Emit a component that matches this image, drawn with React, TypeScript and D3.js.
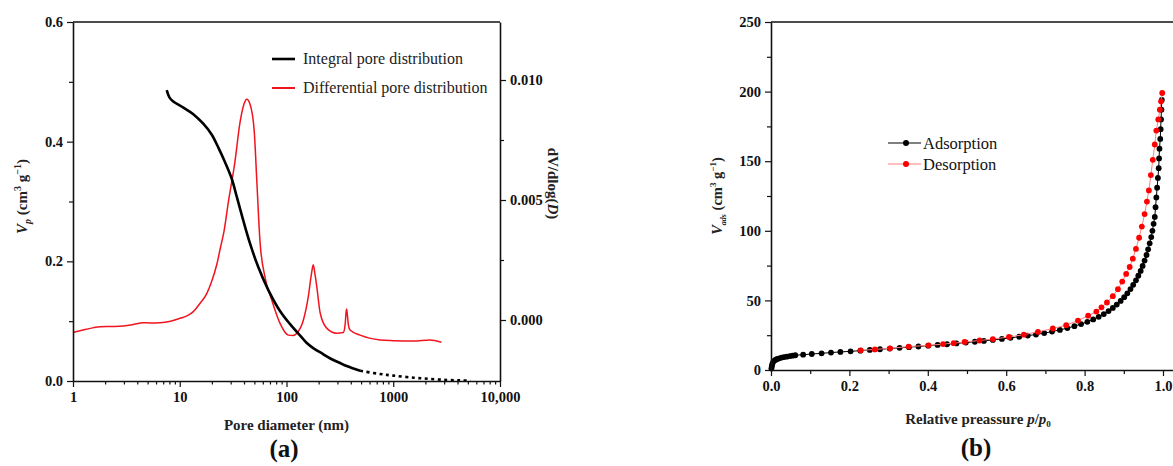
import { useRef, useEffect } from "react";
import * as d3 from "d3";

// ---- panel (a): pore size distribution ----
const integralD = [7.55, 8.0, 8.7, 10.8, 13.4, 16.6, 19.9, 23, 26.5, 30.7, 34.2, 39.4, 45.5, 54.5, 67.6, 86.9, 108, 139, 154, 178, 220, 255, 318, 366, 490, 754, 1000, 1550, 2200, 3170, 4200, 5300];
const integralV = [0.486, 0.474, 0.467, 0.457, 0.446, 0.43, 0.412, 0.39, 0.366, 0.338, 0.308, 0.268, 0.23, 0.19, 0.152, 0.117, 0.095, 0.073, 0.064, 0.055, 0.045, 0.038, 0.03, 0.025, 0.017, 0.0117, 0.009, 0.0055, 0.0035, 0.0017, 0.001, 0.0005];

const diffD = [1.0, 1.3, 1.79, 2.3, 2.96, 3.6, 4.56, 5.27, 6.5, 8.2, 10.06, 11.8, 13.4, 15.5, 17.9, 19.9, 22.2, 24, 26, 28.5, 32.9, 36.6, 40, 42.4, 45.5, 49.8, 52.7, 56.4, 62.8, 72.8, 87, 104, 115, 125, 144, 160, 171, 178, 185, 192, 207, 239, 294, 340, 354, 362, 366, 371, 380, 394, 490, 754, 1000, 1550, 2200, 2830];
const diffV = [-0.00052, -0.0004, -0.00028, -0.00027, -0.00025, -0.0002, -0.00011, -0.00012, -0.00011, -0.00005, 0.00007, 0.00018, 0.00035, 0.0007, 0.0011, 0.0016, 0.0023, 0.003, 0.0037, 0.0049, 0.0066, 0.0082, 0.009, 0.0092, 0.009, 0.0079, 0.0058, 0.0033, 0.0018, 0.00083, -0.00014, -0.00063, -0.00065, -0.00055, 0.0, 0.00097, 0.0019, 0.0023, 0.0019, 0.0014, 0.00028, -0.00035, -0.00055, -0.00052, -0.0002, 0.00035, 0.00046, 0.00025, -0.0002, -0.00042, -0.00063, -0.00083, -0.00086, -0.00088, -0.00083, -0.00093];

const xTicksA = [1, 10, 100, 1000, 10000];
const yTicksA = [0, 0.2, 0.4, 0.6];
const yTicksA2 = [0, 0.005, 0.01];

// ---- panel (b): N2 isotherm ----
const adsP = [0.001, 0.002, 0.003, 0.005, 0.008, 0.012, 0.016, 0.021, 0.027, 0.033, 0.04, 0.048, 0.055, 0.062, 0.082, 0.104, 0.129, 0.153, 0.177, 0.203, 0.228, 0.252, 0.278, 0.303, 0.328, 0.352, 0.376, 0.401, 0.425, 0.449, 0.473, 0.497, 0.52, 0.543, 0.566, 0.589, 0.611, 0.633, 0.655, 0.676, 0.697, 0.717, 0.737, 0.756, 0.774, 0.791, 0.807, 0.822, 0.836, 0.849, 0.861, 0.872, 0.882, 0.892, 0.901, 0.909, 0.917, 0.924, 0.931, 0.937, 0.943, 0.948, 0.953, 0.958, 0.962, 0.966, 0.97, 0.973, 0.976, 0.979, 0.981, 0.983, 0.985, 0.987, 0.989, 0.99, 0.991, 0.993, 0.994, 0.995, 0.996, 0.997];
const adsV = [1.0, 2.5, 4.0, 5.5, 6.6, 7.4, 7.9, 8.4, 8.9, 9.3, 9.6, 10.0, 10.3, 10.6, 11.0, 11.5, 12.0, 12.5, 13.0, 13.4, 13.9, 14.4, 14.9, 15.4, 15.9, 16.4, 16.9, 17.5, 18.0, 18.5, 19.1, 19.7, 20.3, 20.9, 21.6, 22.3, 23.1, 23.9, 24.7, 25.5, 26.5, 27.6, 28.8, 30.1, 31.5, 33.0, 34.6, 36.3, 38.2, 40.2, 42.3, 44.6, 47.0, 49.6, 52.3, 55.1, 58.1, 61.2, 64.4, 67.7, 71.2, 74.8, 78.6, 82.6, 86.7, 91.0, 95.5, 100, 105, 110, 117, 124, 131, 138, 145, 152, 159, 166, 173, 180, 187, 194];

const desP = [0.998, 0.995, 0.992, 0.988, 0.983, 0.979, 0.974, 0.969, 0.964, 0.959, 0.953, 0.946, 0.939, 0.931, 0.923, 0.915, 0.906, 0.896, 0.885, 0.872, 0.857, 0.843, 0.83, 0.809, 0.783, 0.753, 0.719, 0.681, 0.645, 0.607, 0.566, 0.532, 0.494, 0.466, 0.439, 0.402, 0.351, 0.304, 0.265, 0.229];
const desV = [199, 193, 187, 180, 172, 162, 151, 140, 129, 121, 112, 103, 95, 87, 80, 74, 69, 63.5, 58, 53, 48.5, 45, 42, 39, 35.5, 32.2, 29.8, 27.4, 25.4, 23.7, 22.2, 21.2, 20.1, 19.3, 18.6, 17.7, 16.8, 15.6, 14.8, 14.1];

const xTicksB = [0, 0.2, 0.4, 0.6, 0.8, 1.0];
const yTicksB = [0, 50, 100, 150, 200, 250];

const FONT = "'Liberation Serif', 'DejaVu Serif', serif";
const RED = "#f0141e";

type AnyScale = d3.AxisScale<d3.NumberValue>;

function Axis({
  scale,
  orient,
  y = 0,
  x = 0,
  values,
  size,
  format,
  domain = false,
}: {
  scale: AnyScale;
  orient: "left" | "right" | "bottom";
  x?: number;
  y?: number;
  values: number[];
  size: number;
  format?: (d: number) => string;
  domain?: boolean;
}) {
  const ref = useRef<SVGGElement>(null);
  useEffect(() => {
    if (!ref.current) return;
    const maker = orient === "left" ? d3.axisLeft : orient === "right" ? d3.axisRight : d3.axisBottom;
    const ax = maker(scale)
      .tickValues(values)
      .tickSizeInner(size)
      .tickSizeOuter(0)
      .tickPadding(orient === "bottom" ? 5 : 4)
      .tickFormat(format ? (d) => format(+d) : () => "");
    d3.select(ref.current)
      .call(ax)
      .call((g) => g.select(".domain").attr("stroke", domain ? "#111" : "none").attr("stroke-width", 1.6))
      .call((g) => g.selectAll(".tick line").attr("stroke", "#111").attr("stroke-width", 1.2))
      .call((g) =>
        g
          .selectAll<SVGTextElement, unknown>(".tick text")
          .attr("fill", "#111")
          .attr("font-family", FONT)
          .attr("font-weight", "bold")
          .attr("font-size", "14.5")
      );
  }, [scale, orient, values, size, format, domain]);
  return <g ref={ref} transform={`translate(${x},${y})`} />;
}

function minorLog(): number[] {
  const out: number[] = [];
  [1, 10, 100, 1000].forEach((dec) => {
    for (let k = 2; k <= 9; k++) out.push(dec * k);
  });
  return out;
}

function PanelA() {
  const x = d3.scaleLog().domain([1, 10000]).range([73, 500]);
  const y = d3.scaleLinear().domain([0, 0.6]).range([381, 22]);
  const y2 = d3.scaleLinear().domain([-0.002542, 0.012417]).range([381, 22]);
  const [x0, x1] = x.range();
  const [yb, yt] = y.range();

  const intPts = integralD.map((d, i) => [d, integralV[i]] as [number, number]);
  const diffPts = diffD.map((d, i) => [d, diffV[i]] as [number, number]);

  const lineInt = d3
    .line<[number, number]>()
    .x((d) => x(d[0]))
    .y((d) => y(d[1]))
    .curve(d3.curveCatmullRom);
  const lineDiff = d3
    .line<[number, number]>()
    .x((d) => x(d[0]))
    .y((d) => y2(d[1]))
    .curve(d3.curveMonotoneX);

  const solid = intPts.filter((d) => d[0] <= 490);
  const dotted = intPts.filter((d) => d[0] >= 490);

  return (
    <g>
      <line x1={x0} x2={x1} y1={yt} y2={yt} stroke="#111" strokeWidth={1.6} />
      <path d={lineDiff(diffPts) ?? ""} fill="none" stroke={RED} strokeWidth={1.5} />
      <path d={lineInt(solid) ?? ""} fill="none" stroke="#000" strokeWidth={2.6} />
      <path d={lineInt(dotted) ?? ""} fill="none" stroke="#000" strokeWidth={2.6} strokeDasharray="3 3.5" />

      <Axis scale={y} orient="left" x={x0} values={yTicksA} size={6} format={(d) => d.toFixed(1)} domain />
      <Axis scale={y} orient="left" x={x0} values={[0.1, 0.3, 0.5]} size={4} />
      <Axis scale={y2} orient="right" x={x1} values={yTicksA2} size={6} format={(d) => d.toFixed(3)} domain />
      <Axis scale={y2} orient="right" x={x1} values={[0.0025, 0.0075]} size={4} />
      <Axis
        scale={x}
        orient="bottom"
        y={yb}
        values={xTicksA}
        size={6}
        format={(d) => (d === 10000 ? "10,000" : String(d))}
        domain
      />
      <Axis scale={x} orient="bottom" y={yb} values={minorLog()} size={3.5} />

      {/* legend */}
      <g fontFamily={FONT} fontSize={16} fill="#222">
        <line x1={272} x2={295} y1={59} y2={59} stroke="#000" strokeWidth={2.6} />
        <text x={303} y={64}>Integral pore distribution</text>
        <line x1={272} x2={295} y1={88} y2={88} stroke={RED} strokeWidth={2} />
        <text x={303} y={93}>Differential pore distribution</text>
      </g>

      <text x={(x0 + x1) / 2} y={430} textAnchor="middle" fontFamily={FONT} fontWeight="bold" fontSize={15} fill="#222">
        Pore diameter (nm)
      </text>
      <text
        transform={`translate(27,${(yt + yb) / 2 - 5}) rotate(-90)`}
        textAnchor="middle"
        fontFamily={FONT}
        fontWeight="bold"
        fontSize={15}
        fill="#222"
      >
        <tspan fontStyle="italic">V</tspan>
        <tspan fontStyle="italic" fontSize={10} dy={4}>p</tspan>
        <tspan dy={-4}> (cm</tspan>
        <tspan fontSize={10} dy={-6}>3</tspan>
        <tspan dy={6}> g</tspan>
        <tspan fontSize={10} dy={-6}>−1</tspan>
        <tspan dy={6}>)</tspan>
      </text>
      <text
        transform={`translate(548,${(yt + yb) / 2 - 18}) rotate(90)`}
        textAnchor="middle"
        fontFamily={FONT}
        fontWeight="bold"
        fontSize={15}
        fill="#222"
      >
        dV/dlog(<tspan fontStyle="italic">D</tspan>)
      </text>
      <text x={284} y={457} textAnchor="middle" fontFamily={FONT} fontWeight="bold" fontSize={25} fill="#111">
        (a)
      </text>
    </g>
  );
}

function PanelB() {
  const x = d3.scaleLinear().domain([0, 1.0255]).range([771, 1173]);
  const y = d3.scaleLinear().domain([0, 250]).range([370, 22]);
  const [x0, x1] = x.range();
  const [yb, yt] = y.range();

  const ads = adsP.map((p, i) => [p, adsV[i]] as [number, number]);
  const des = desP.map((p, i) => [p, desV[i]] as [number, number]);
  const line = d3
    .line<[number, number]>()
    .x((d) => x(d[0]))
    .y((d) => y(d[1]));

  return (
    <g>
      <line x1={x0} x2={x1} y1={yt} y2={yt} stroke="#111" strokeWidth={1.6} />
      <path d={line(ads) ?? ""} fill="none" stroke="#000" strokeWidth={1} />
      {ads.map((d, i) => (
        <circle key={`a${i}`} cx={x(d[0])} cy={y(d[1])} r={2.9} fill="#000" />
      ))}
      <path d={line(des) ?? ""} fill="none" stroke="#ff7f7f" strokeWidth={1} />
      {des.map((d, i) => (
        <circle key={`d${i}`} cx={x(d[0])} cy={y(d[1])} r={2.9} fill="#ff0000" />
      ))}

      <Axis scale={y} orient="left" x={x0} values={yTicksB} size={6} format={(d) => String(d)} domain />
      <Axis scale={y} orient="left" x={x0} values={[25, 75, 125, 175, 225]} size={4} />
      <Axis scale={x} orient="bottom" y={yb} values={xTicksB} size={6} format={(d) => d.toFixed(1)} domain />
      <Axis scale={x} orient="bottom" y={yb} values={[0.1, 0.3, 0.5, 0.7, 0.9]} size={4} />

      {/* legend */}
      <g fontFamily={FONT} fontSize={16.5} fill="#111">
        <line x1={888} x2={921} y1={143} y2={143} stroke="#000" strokeWidth={1} />
        <circle cx={906} cy={143} r={3} fill="#000" />
        <text x={923} y={148.5}>Adsorption</text>
        <line x1={888} x2={921} y1={164} y2={164} stroke="#ff7f7f" strokeWidth={1} />
        <circle cx={906} cy={164} r={3} fill="#ff0000" />
        <text x={923} y={169.5}>Desorption</text>
      </g>

      <text x={978} y={424} textAnchor="middle" fontFamily={FONT} fontWeight="bold" fontSize={15} fill="#222">
        Relative preassure <tspan fontStyle="italic">p</tspan>/<tspan fontStyle="italic">p</tspan>
        <tspan fontSize={9} dy={3}>0</tspan>
      </text>
      <text
        transform={`translate(722,${(yt + yb) / 2}) rotate(-90)`}
        textAnchor="middle"
        fontFamily={FONT}
        fontWeight="bold"
        fontSize={14.5}
        fill="#222"
      >
        <tspan fontStyle="italic">V</tspan>
        <tspan fontStyle="italic" fontSize={8} dy={4}>ads</tspan>
        <tspan dy={-4}> (cm</tspan>
        <tspan fontSize={9} dy={-6}>3</tspan>
        <tspan dy={6}> g</tspan>
        <tspan fontSize={9} dy={-6}>−1</tspan>
        <tspan dy={6}>)</tspan>
      </text>
      <text x={976} y={456} textAnchor="middle" fontFamily={FONT} fontWeight="bold" fontSize={25} fill="#111">
        (b)
      </text>
    </g>
  );
}

export default function App() {
  return (
    <svg
      width={1173}
      height={466}
      style={{ position: "absolute", left: 0, top: 0, background: "#fff" }}
    >
      <PanelA />
      <PanelB />
    </svg>
  );
}
